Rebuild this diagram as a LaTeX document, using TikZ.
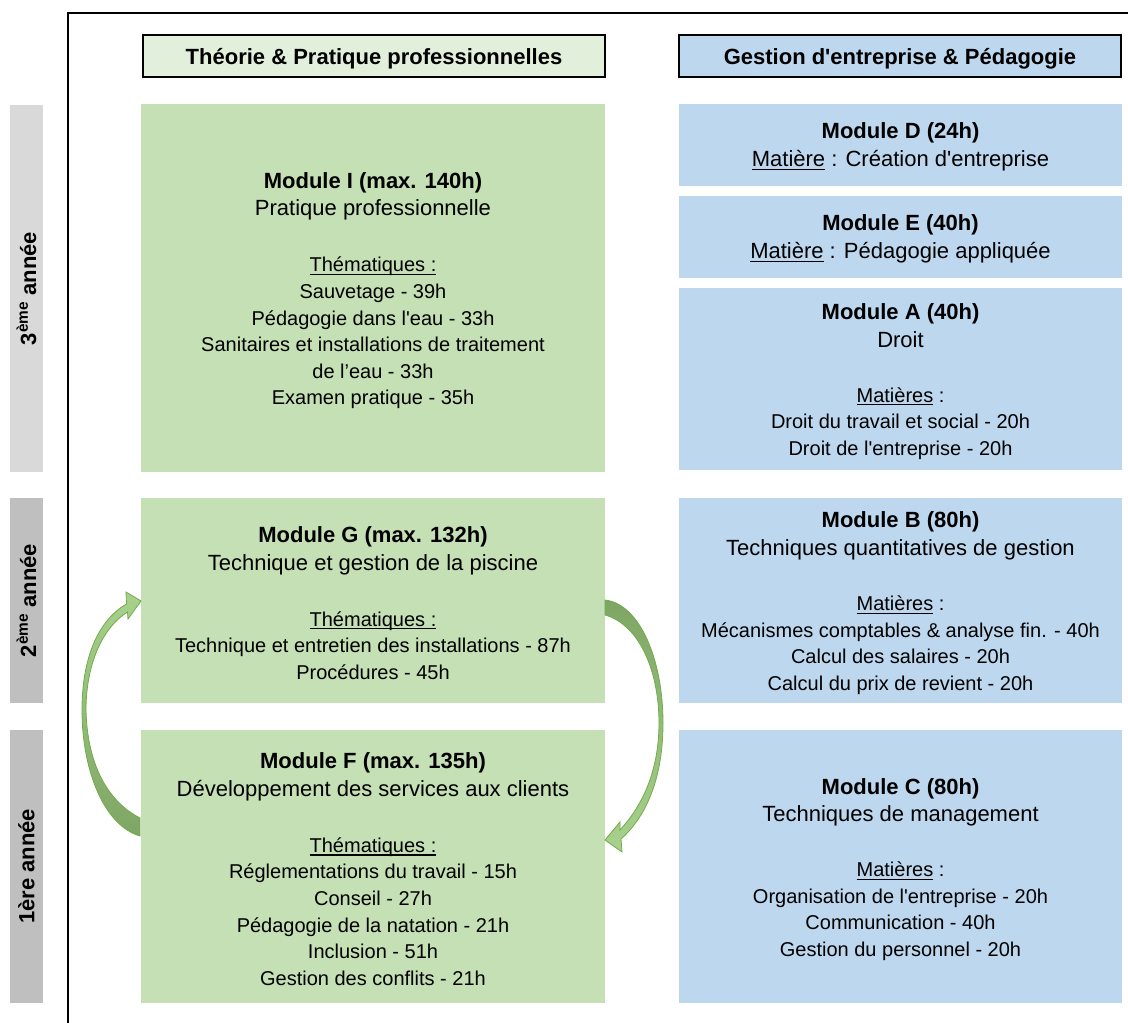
\documentclass[tikz,border=0pt]{standalone}
\usepackage{fontspec}
\setmainfont{Liberation Sans}[Ligatures=TeXOff]
\definecolor{grnM}{HTML}{C5E0B4}
\definecolor{grnH}{HTML}{E2EFDA}
\definecolor{bluM}{HTML}{BDD7EE}
\definecolor{gryA}{HTML}{D9D9D9}
\definecolor{gryB}{HTML}{BFBFBF}
\definecolor{arrL}{HTML}{A9D18E}
\definecolor{arrD}{HTML}{7FA565}
\definecolor{arrE}{HTML}{70AD47}
\newcommand\modtitle[1]{{\fontsize{16.5}{20}\selectfont\bfseries #1}}
\newcommand\modsub[1]{{\fontsize{16.5}{20}\selectfont #1}}
\newcommand\myul[1]{\setbox0\hbox{#1}\rlap{\rule[-2.3pt]{\wd0}{0.8pt}}\box0\relax}
\begin{document}
\begin{tikzpicture}[x=0.75pt,y=-0.75pt,
  every node/.style={inner sep=0pt, outer sep=0pt},
  hdr/.style={draw=black, line width=1.5pt, minimum height=31.5pt},
  hdrtext/.style={font=\fontsize{16.5}{20}\selectfont\bfseries},
  modtext/.style={align=center, font=\fontsize{15}{19.9}\selectfont, text=black},
  leftcol/.style={fill=grnM, minimum width=348pt},
  rightcol/.style={fill=bluM, minimum width=332.25pt},
  yearbox/.style={rotate=90, minimum height=24.75pt, font=\fontsize{16.5}{20}\selectfont\bfseries},
  frameline/.style={line width=1.5pt, black},
  bigarrow/.style={draw=arrE, line width=0.6pt}
]
\useasboundingbox (0,0) rectangle (1128,1023);
% frame
\coordinate (fb) at (68,1023);
\coordinate (fc) at (68,13);
\coordinate (fr) at (1128,13);
\draw[frameline] (fb) -- (fc) -- (fr);
% headers
\node[hdr, fill=grnH, minimum width=346.5pt] (hL) at (374,56) {};
\node[hdr, fill=bluM, minimum width=331.5pt] (hR) at (900,56) {};
\node[hdrtext] (hLt) at ([yshift=-1.9pt]hL.center) {Théorie \& Pratique professionnelles};
\node[hdrtext] (hRt) at ([yshift=-1.9pt]hR.center) {Gestion d'entreprise \& Pédagogie};
% years
\node[yearbox, fill=gryA, minimum width=275.25pt] (y3) at (26.5,288.5) {3\textsuperscript{ème} année};
\node[yearbox, fill=gryB, minimum width=153.75pt] (y2) at (26.5,600.5) {2\textsuperscript{ème} année};
\node[yearbox, fill=gryB, minimum width=204.75pt] (y1) at (26.5,866.5) {1ère année};
% boxes
\node[leftcol, minimum height=276pt] (mI) at (373,288) {};
\node[leftcol, minimum height=153.75pt] (mG) at (373,600.5) {};
\node[leftcol, minimum height=204.75pt] (mF) at (373,866.5) {};
\node[rightcol, minimum height=61.5pt] (mD) at (900.5,145) {};
\node[rightcol, minimum height=61.5pt] (mE) at (900.5,237) {};
\node[rightcol, minimum height=136.5pt] (mA) at (900.5,379) {};
\node[rightcol, minimum height=153.75pt] (mB) at (900.5,600.5) {};
\node[rightcol, minimum height=204.75pt] (mC) at (900.5,866.5) {};
% left column texts
\node[modtext] (mIt) at ([yshift=-2pt]mI.center) {\modtitle{Module I (max. 140h)}\\[0.7pt]
 \modsub{Pratique professionnelle}\\[22.1pt]
 \myul{Thématiques :}\\ Sauvetage - 39h\\ Pédagogie dans l'eau - 33h\\
 Sanitaires et installations de traitement\\ de l’eau - 33h\\ Examen pratique - 35h};
\node[modtext] (mGt) at ([yshift=-2pt]mG.center) {\modtitle{Module G (max. 132h)}\\[0.7pt]
 \modsub{Technique et gestion de la piscine}\\[22.1pt]
 \myul{Thématiques :}\\ Technique et entretien des installations - 87h\\ Procédures - 45h};
\node[modtext] (mFt) at ([yshift=-2pt]mF.center) {\modtitle{Module F (max. 135h)}\\[0.7pt]
 \modsub{Développement des services aux clients}\\[22.1pt]
 \myul{Thématiques :}\\ Réglementations du travail - 15h\\ Conseil - 27h\\
 Pédagogie de la natation - 21h\\ Inclusion - 51h\\ Gestion des conflits - 21h};
% right column texts
\node[modtext] (mDt) at ([yshift=-1.6pt]mD.center) {\modtitle{Module D (24h)}\\[1.1pt]
 \modsub{\myul{Matière} : Création d'entreprise}};
\node[modtext] (mEt) at ([yshift=-1.6pt]mE.center) {\modtitle{Module E (40h)}\\[1.1pt]
 \modsub{\myul{Matière} : Pédagogie appliquée}};
\node[modtext] (mAt) at ([yshift=-2pt]mA.center) {\modtitle{Module A (40h)}\\[0.7pt]
 \modsub{Droit}\\[21.4pt]
 \myul{Matières} :\\ Droit du travail et social - 20h\\ Droit de l'entreprise - 20h};
\node[modtext] (mBt) at ([yshift=-2pt]mB.center) {\modtitle{Module B (80h)}\\[0.7pt]
 \modsub{Techniques quantitatives de gestion}\\[21.4pt]
 \myul{Matières} :\\ Mécanismes comptables \& analyse fin. - 40h\\ Calcul des salaires - 20h\\ Calcul du prix de revient - 20h};
\node[modtext] (mCt) at ([yshift=-2pt]mC.center) {\modtitle{Module C (80h)}\\[0.7pt]
 \modsub{Techniques de management}\\[21.4pt]
 \myul{Matières} :\\ Organisation de l'entreprise - 20h\\ Communication - 40h\\ Gestion du personnel - 20h};
% curved block arrows
\path[bigarrow, top color=arrL, bottom color=arrD]
 (140,818) .. controls (105,800) and (87,760) .. (86,710)
 .. controls (86,665) and (102,628) .. (127.5,612)
 -- (128,619) -- (141,601) -- (126,592) -- (126.5,604)
 .. controls (97,621) and (82,660) .. (82,710)
 .. controls (82,772) and (105,826) .. (140,836) -- cycle;
\path[bigarrow, top color=arrD, bottom color=arrL]
 (605,600) .. controls (640,604) and (663,660) .. (663,723)
 .. controls (663,775) and (648,815) .. (621,839)
 -- (622,852) -- (605,840) -- (620,822) -- (620,830)
 .. controls (643,805) and (659,770) .. (659,723)
 .. controls (659,672) and (640,625) .. (605,615) -- cycle;
\end{tikzpicture}
\end{document}
